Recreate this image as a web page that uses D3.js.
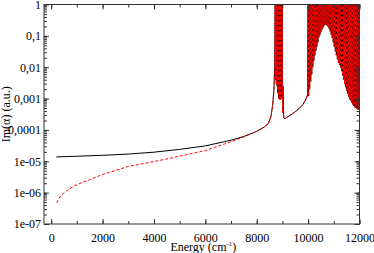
<!DOCTYPE html>
<html>
<head>
<meta charset="utf-8">
<script src="https://cdn.jsdelivr.net/npm/d3@7"></script>
<style>
  body { margin: 0; background: #fff; }
  svg text { font-family: "Liberation Serif", "Times New Roman", Times, serif; }
</style>
</head>
<body>
<div id="chart"></div>
<script>
// low-energy part
var blackE = [200, 1000, 2000, 3000, 4000, 5000, 6000, 7000, 7500, 8000, 8300, 8450, 8550, 8620, 8670];
var blackV = [1.38e-5, 1.45e-5, 1.55e-5, 1.7e-5, 1.95e-5, 2.4e-5, 3.1e-5, 4.7e-5, 6.2e-5, 9e-5, 1.25e-4, 1.6e-4, 2.6e-4, 6e-4, 2e-3];
var redE = [220, 300, 400, 600, 900, 1200, 1500, 2000, 3000, 4000, 5000, 6000, 7000, 7500, 8000, 8300, 8450, 8550, 8620, 8670];
var redV = [4.7e-7, 6.5e-7, 8.5e-7, 1.15e-6, 1.65e-6, 2.1e-6, 2.6e-6, 3.8e-6, 6.8e-6, 9.8e-6, 1.45e-5, 2.2e-5, 4.2e-5, 6e-5, 9e-5, 1.25e-4, 1.6e-4, 2.6e-4, 6e-4, 2e-3];

// resonance part, shared by both curves (peaks run off the top)
var resE = [8700, 8720, 8735, 8750, 8765, 8780, 8795, 8810, 8825, 8840, 8855, 8870, 8885, 8900, 8915, 8930, 8945, 8960, 8975, 8990, 9005, 9025, 9050, 9100, 9200, 9400, 9600, 9800, 9900, 9980,
  10000, 10020, 10040, 10060, 10080, 10100, 10120, 10140, 10160, 10180, 10200, 10220, 10240, 10260, 10280, 10300, 10320, 10340, 10360, 10380,
  10400, 10420, 10440, 10460, 10480, 10500, 10520, 10540, 10560, 10580, 10600, 10620, 10640, 10660, 10680, 10700, 10720, 10740, 10760, 10780,
  10800, 10820, 10840, 10860, 10880, 10900, 10920, 10940, 10960, 10980, 11000, 11020, 11040, 11060, 11080, 11100, 11120, 11140, 11160, 11180,
  11200, 11220, 11240, 11260, 11280, 11300, 11320, 11340, 11360, 11380, 11400, 11420, 11440, 11460, 11480, 11500, 11520, 11540, 11560, 11580,
  11600, 11620, 11640, 11660, 11680, 11700, 11720, 11740, 11760, 11780, 11800, 11820, 11840, 11860, 11880, 11900, 11920, 11940, 11960, 11980, 12000];
var resV = [1e-2, 10, 4e-3, 10, 3e-3, 10, 2.5e-3, 10, 1.5e-3, 10, 1e-3, 10, 1e-3, 10, 9e-4, 10, 1e-3, 10, 1.1e-3, 10, 3.5e-4, 2.5e-3, 2.4e-4, 2.3e-4, 2.6e-4, 3.3e-4, 4.4e-4, 6.5e-4, 9e-4, 1.3e-3,
  10, 1.2e-3, 10, 2e-3, 10, 3.5e-3, 10, 6e-3, 10, 1e-2, 10, 1.6e-2, 10, 2.4e-2, 10, 3.3e-2, 10, 4.6e-2, 10, 6.3e-2,
  10, 9e-2, 10, 0.11, 10, 0.135, 10, 0.16, 10, 0.185, 10, 0.21, 10, 0.23, 10, 0.23, 10, 0.215, 10, 0.195,
  10, 0.17, 10, 0.14, 10, 0.11, 10, 0.085, 10, 0.063, 10, 0.045, 10, 0.032, 10, 0.024, 10, 0.018, 10, 0.014,
  10, 0.012, 10, 0.01, 10, 7.5e-3, 10, 5.5e-3, 10, 4e-3, 10, 2.9e-3, 10, 2.3e-3, 10, 1.8e-3, 10, 1.4e-3, 10, 1.15e-3,
  10, 9.5e-4, 10, 8.5e-4, 10, 7.5e-4, 10, 6.5e-4, 10, 5.8e-4, 10, 5.3e-4, 10, 5e-4, 10, 4.7e-4, 10, 4.5e-4, 10, 4.4e-4, 10];

var xTicks = [0, 2000, 4000, 6000, 8000, 10000, 12000];
var yTicks = [1, 0.1, 0.01, 0.001, 0.0001, 1e-5, 1e-6, 1e-7];
var yLabels = ["1", "0,1", "0,01", "0,001", "0,0001", "1e-05", "1e-06", "1e-07"];

var serif = "'Liberation Serif', 'Times New Roman', Times, serif";

var width = 374, height = 253;
var margin = {top: 4.5, right: 14.5, bottom: 29, left: 44};
var w = width - margin.left - margin.right,
    h = height - margin.top - margin.bottom;

var svg = d3.select("#chart")
  .append("svg")
    .attr("width", width)
    .attr("height", height)
    .attr("font-family", serif);

var g = svg.append("g")
  .attr("transform", "translate(" + margin.left + "," + margin.top + ")");

var x = d3.scaleLinear().domain([-280, 12000]).range([0, w]);
var y = d3.scaleLog().domain([1e-7, 1]).range([h, 0]);

g.append("clipPath").attr("id", "clip")
  .append("rect").attr("width", w).attr("height", h);

var line = d3.line()
  .x(function(d) { return x(d[0]); })
  .y(function(d) { return y(d[1]); });

var black = d3.zip(blackE.concat(resE), blackV.concat(resV));
var red = d3.zip(redE.concat(resE), redV.concat(resV));

g.append("path")
  .datum(black)
  .attr("clip-path", "url(#clip)")
  .attr("fill", "none")
  .attr("stroke", "#000")
  .attr("stroke-width", 1)
  .attr("d", line);

g.append("path")
  .datum(red)
  .attr("clip-path", "url(#clip)")
  .attr("fill", "none")
  .attr("stroke", "#ff0000")
  .attr("stroke-width", 1)
  .attr("stroke-dasharray", "3,2")
  .attr("d", line);

// axes, ticks pointing inward on all four sides
function styleAxis(sel) {
  sel.attr("font-family", serif).attr("font-size", 12);
  sel.select(".domain").remove();
  sel.selectAll("line").attr("stroke", "#333");
  sel.selectAll("text")
    .attr("fill", "#000")
    .attr("font-family", serif)
    .style("font-family", serif)
    .style("font-size", "12px");
}

var minorX = x.ticks(12);
var minorY = y.ticks();

g.append("g").attr("transform", "translate(0," + h + ")")
  .call(d3.axisBottom(x).tickValues(minorX).tickSize(-3).tickFormat(""))
  .call(styleAxis);
g.append("g").attr("transform", "translate(0," + h + ")")
  .call(d3.axisBottom(x).tickValues(xTicks).tickSize(-5).tickPadding(9).tickFormat(d3.format("d")))
  .call(styleAxis);
g.append("g")
  .call(d3.axisTop(x).tickValues(minorX).tickSize(-3).tickFormat(""))
  .call(styleAxis);
g.append("g")
  .call(d3.axisTop(x).tickValues(xTicks).tickSize(-5).tickFormat(""))
  .call(styleAxis);

g.append("g")
  .call(d3.axisLeft(y).tickValues(minorY).tickSize(-3).tickFormat(""))
  .call(styleAxis);
g.append("g")
  .call(d3.axisLeft(y).tickValues(yTicks).tickSize(-5).tickPadding(3)
    .tickFormat(function(d, i) { return yLabels[i]; }))
  .call(styleAxis);
g.append("g").attr("transform", "translate(" + w + ",0)")
  .call(d3.axisRight(y).tickValues(minorY).tickSize(-3).tickFormat(""))
  .call(styleAxis);
g.append("g").attr("transform", "translate(" + w + ",0)")
  .call(d3.axisRight(y).tickValues(yTicks).tickSize(-5).tickFormat(""))
  .call(styleAxis);

g.append("rect")
  .attr("width", w)
  .attr("height", h)
  .attr("fill", "none")
  .attr("stroke", "#333")
  .attr("stroke-width", 1);

// axis titles
var xl = svg.append("text")
  .attr("x", margin.left + x(6000) - 2)
  .attr("y", 250.5)
  .attr("text-anchor", "middle")
  .style("font-family", serif)
  .style("font-size", "12px");
xl.append("tspan").text("Energy (cm");
xl.append("tspan").attr("dy", -5).style("font-size", "7px").text("-1");
xl.append("tspan").attr("dy", 5).text(")");

svg.append("text")
  .attr("transform", "translate(10," + (margin.top + h / 2) + ") rotate(-90)")
  .attr("text-anchor", "middle")
  .style("font-family", serif)
  .style("font-size", "12px")
  .text("Im(\u03b1) (a.u.)");
</script>
</body>
</html>
